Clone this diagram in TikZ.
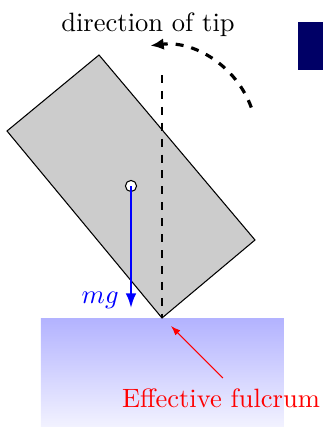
\documentclass[tikz,border=0pt]{standalone}
\usetikzlibrary{arrows.meta}

\begin{document}
\begin{tikzpicture}[x=0.377pt, y=0.377pt]
			\useasboundingbox (0,0) rectangle (323,427);
			\shade[top color=blue!30, bottom color=blue!5] (41,0) rectangle (284,109);
			\fill[blue!40!black] (298,357) rectangle (323,405);
			\draw[fill=black!20] (99,372) -- (7,296) -- (162,109) -- (255,187) -- cycle;
			\draw[dashed, thin] (162,352) -- (162,109);
			\coordinate (fulcrum) at (162,109);
			\coordinate (tipstart) at (251.3,319.5);
			\draw[very thick, dashed, -{Latex[length=5pt,width=4.4pt]}] (tipstart) arc[start angle=20, end angle=97, radius=95];
			\node (tiptext) at (148,402) {direction of tip};
			\node[circle, inner sep=0pt, minimum size=4.2pt, fill=white, draw=black] (cm) at (131,241) {};
			\coordinate (mgend) at (131,119);
			\draw[thick, blue, -{Latex[length=5.5pt,width=4pt]}] (cm.center) -- (mgend);
			\node[blue, left] (mg) at (128,127) {$mg$};
			\node[red] (fulcrumtext) at (221,29) {Effective fulcrum};
			\coordinate (fulcrumarr) at (223,49);
			\draw[red, -{Latex[length=3.6pt,width=2.6pt]}] (fulcrumarr) -- ([shift={(9,-8)}]fulcrum);
			\end{tikzpicture}
\end{document}
